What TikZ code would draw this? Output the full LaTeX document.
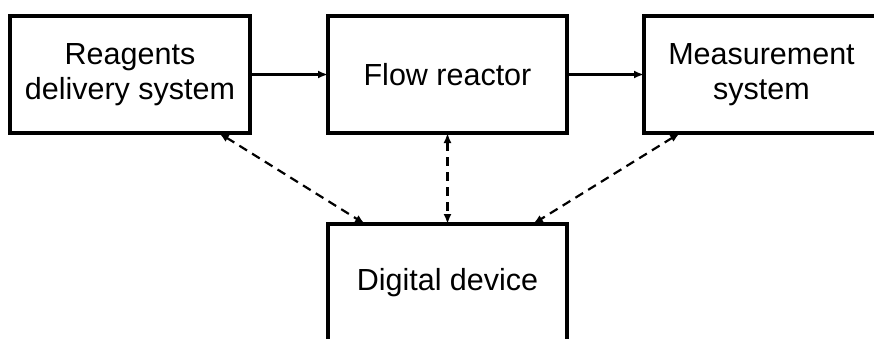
\documentclass[tikz,border=0pt]{standalone}
\usepackage{fontspec}
\setmainfont{Liberation Sans}
\usetikzlibrary{arrows.meta}
\begin{document}
\begin{tikzpicture}[x=1pt,y=-1pt,
  blockbox/.style={draw=black,line width=3.4pt,fill=white,minimum height=117pt,inner sep=0pt,outer sep=0pt,align=center,font=\fontsize{30.5}{35}\selectfont},
  flowarrow/.style={line width=2.6pt,-{Latex[length=10pt,width=8pt]}},
  linkarrow/.style={line width=2.2pt,dash pattern=on 9pt off 6pt,{Latex[length=10pt,width=8pt]}-{Latex[length=10pt,width=8pt]}}]
\clip (0,0) rectangle (874,338);
\fill[white] (0,0) rectangle (874,338);
\node[blockbox,minimum width=240pt] (l) at (130,74.5) {Reagents\\delivery system};
\node[blockbox,minimum width=239pt] (m) at (447.5,74.5) {Flow reactor};
\node[blockbox,minimum width=235pt] (r) at (761.5,74.5) {Measurement\\system};
\node[blockbox,minimum width=239pt] (d) at (447.5,282.5) {Digital device};
\draw[flowarrow] (l.east) -- (m.west);
\draw[flowarrow] (m.east) -- (r.west);
\draw[linkarrow] ([xshift=89pt]l.south) -- ([xshift=-82.5pt]d.north);
\draw[linkarrow] (m.south) -- (d.north);
\draw[linkarrow] ([xshift=-81.5pt]r.south) -- ([xshift=85.5pt]d.north);
\end{tikzpicture}
\end{document}
